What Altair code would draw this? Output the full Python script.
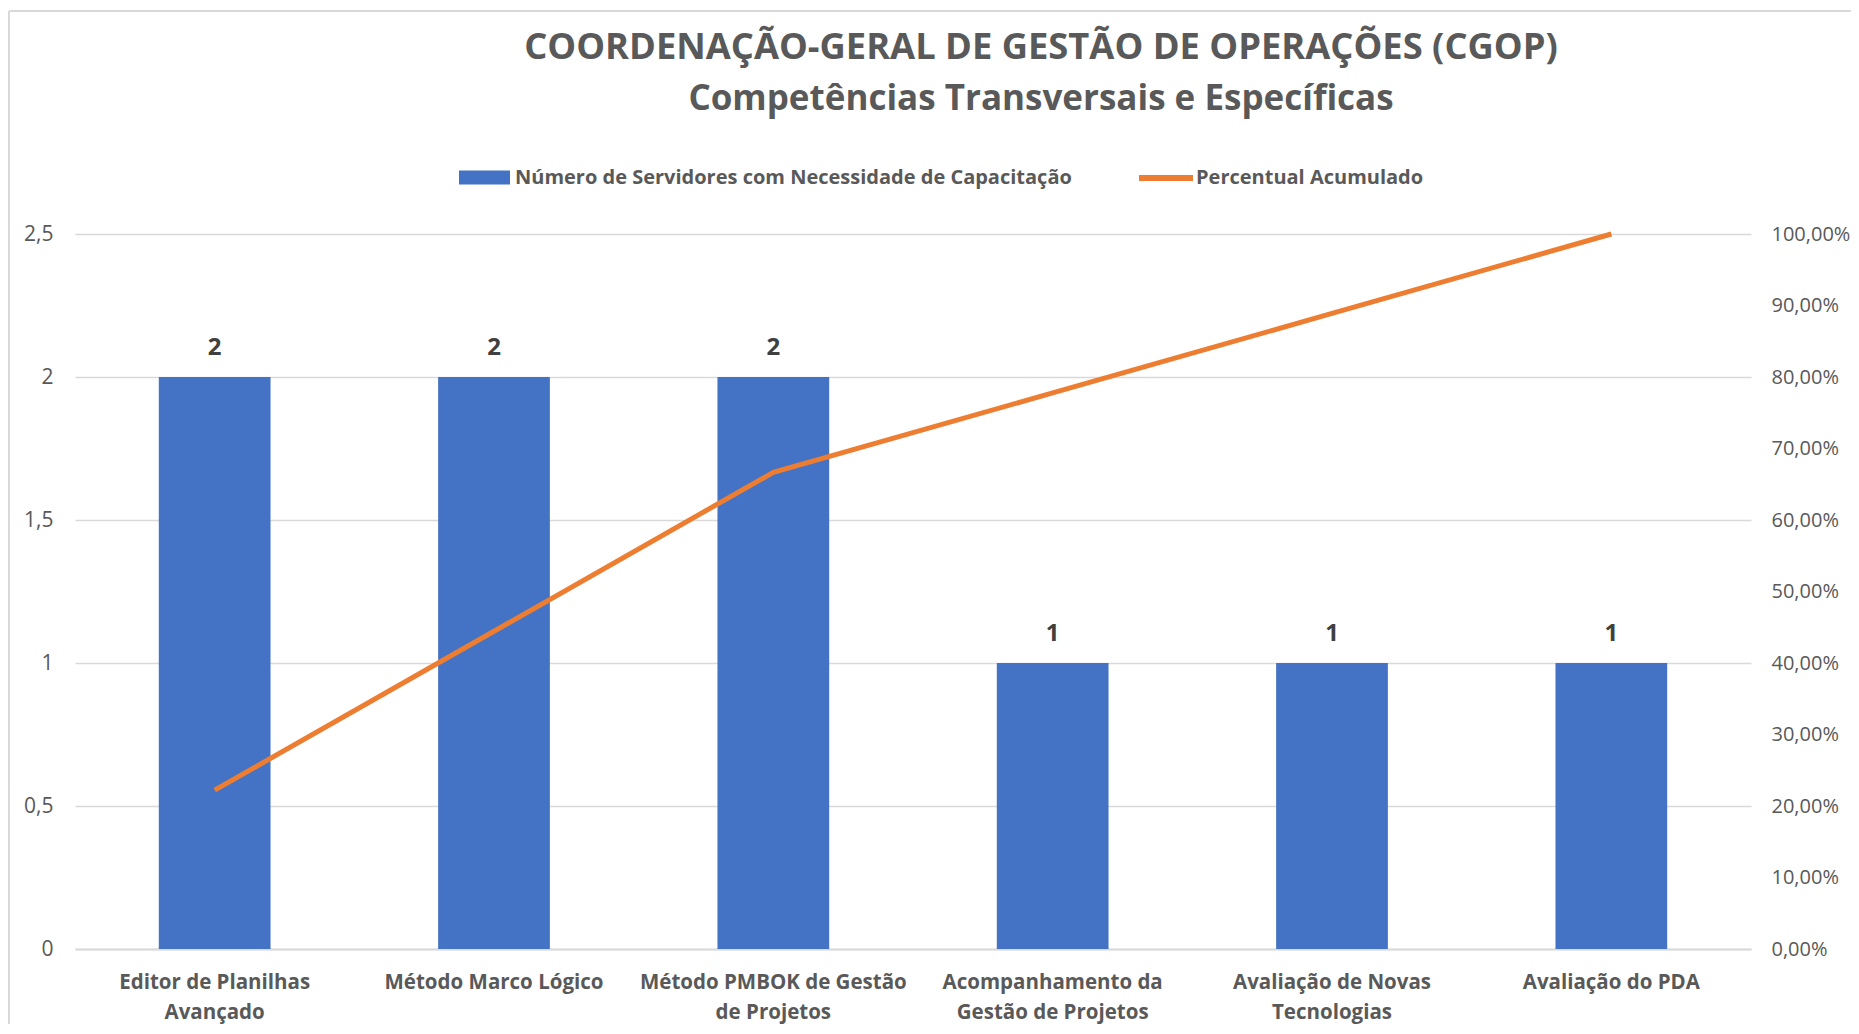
import altair as alt
import pandas as pd

categories = [
    "Editor de Planilhas\nAvançado",
    "Método Marco Lógico",
    "Método PMBOK de Gestão\nde Projetos",
    "Acompanhamento da\nGestão de Projetos",
    "Avaliação de Novas\nTecnologias",
    "Avaliação do PDA",
]
servidores = [2, 2, 2, 1, 1, 1]
percentual = [0.2222, 0.4444, 0.6667, 0.7778, 0.8889, 1.0]

bar_name = "Número de Servidores com Necessidade de Capacitação"
line_name = "Percentual Acumulado"

df = pd.DataFrame({
    "cat": categories,
    "n": servidores,
    "pct": percentual,
    "s1": [bar_name] * len(categories),
    "s2": [line_name] * len(categories),
})

FONT = "Open Sans"
GRAY = "#595959"
BORDER = "#D9D9D9"

x = alt.X(
    "cat:N",
    sort=categories,
    title=None,
    scale=alt.Scale(paddingInner=0.6, paddingOuter=0.3),
    axis=alt.Axis(
        labelExpr="split(datum.label, '\\n')",
        labelAngle=0,
        labelFont=FONT,
        labelFontSize=20.5,
        labelFontWeight="bold",
        labelColor=GRAY,
        labelLineHeight=30,
        labelPadding=23,
        labelBaseline="top",
        ticks=False,
        domain=True,
        domainColor="#D9D9D9",
        domainWidth=2,
        grid=False,
        labelLimit=400,
    ),
)

y_left = alt.Y(
    "n:Q",
    title=None,
    scale=alt.Scale(domain=[0, 2.5], nice=False),
    axis=alt.Axis(
        values=[0, 0.5, 1, 1.5, 2, 2.5],
        labelExpr="replace(format(datum.value, '~g'), '.', ',')",
        labelFont=FONT,
        labelFontSize=21,
        labelColor=GRAY,
        labelPadding=22,
        ticks=False,
        domain=False,
        grid=True,
        gridColor="#D9D9D9",
        gridWidth=1.3,
    ),
)

bars = alt.Chart(df).mark_bar(color="#4472C4").encode(
    x=x,
    y=y_left,
    fill=alt.Fill(
        "s1:N",
        scale=alt.Scale(domain=[bar_name], range=["#4472C4"]),
        legend=alt.Legend(
            title=None,
            orient="none",
            legendX=384,
            legendY=-82,
            symbolType="M-1,-0.275H1V0.275H-1Z",
            symbolSize=2601,
            symbolStrokeWidth=0,
            labelFont=FONT,
            labelFontSize=20,
            labelFontWeight="bold",
            labelColor=GRAY,
            labelOffset=5,
            labelLimit=800,
            padding=0,
        ),
    ),
)

labels = alt.Chart(df).mark_text(
    dy=-29, font=FONT, fontSize=24, fontWeight="bold", color="#404040"
).encode(x=x, y=y_left, text="n:Q")

line = alt.Chart(df).mark_line(strokeWidth=5).encode(
    x=x,
    y=alt.Y(
        "pct:Q",
        title=None,
        scale=alt.Scale(domain=[0, 1], nice=False),
        axis=alt.Axis(
            orient="right",
            values=[0, 0.1, 0.2, 0.3, 0.4, 0.5, 0.6, 0.7, 0.8, 0.9, 1.0],
            labelExpr="replace(format(datum.value, '.2%'), '.', ',')",
            labelFont=FONT,
            labelFontSize=20,
            labelColor=GRAY,
            labelPadding=20,
            ticks=False,
            domain=False,
            grid=False,
        ),
    ),
    stroke=alt.Stroke(
        "s2:N",
        scale=alt.Scale(domain=[line_name], range=["#ED7D31"]),
        legend=alt.Legend(
            title=None,
            orient="none",
            legendX=1061,
            legendY=-86,
            symbolType="stroke",
            symbolSize=2916,
            symbolStrokeWidth=6,
            labelFont=FONT,
            labelFontSize=20,
            labelFontWeight="bold",
            labelColor=GRAY,
            labelOffset=0,
            labelLimit=800,
            padding=0,
        ),
    ),
)

# chart frame (light gray border at top and left of the chart area)
frame_top = alt.Chart(df.head(1)).mark_rule(color=BORDER, strokeWidth=2).encode(
    x=alt.value(-66), x2=alt.value(1790), y=alt.value(-223)
)
frame_left = alt.Chart(df.head(1)).mark_rule(color=BORDER, strokeWidth=2).encode(
    x=alt.value(-66), y=alt.value(-223), y2=alt.value(820)
)

left = alt.layer(bars, labels)
chart = alt.layer(frame_top, frame_left, left, line).resolve_scale(
    y="independent", fill="independent", stroke="independent"
).properties(
    width=1676,
    height=715,
    autosize=alt.AutoSizeParams(type="none"),
    padding={"left": 67, "top": 226, "right": 100, "bottom": 75},
    title=alt.TitleParams(
        text="COORDENAÇÃO-GERAL DE GESTÃO DE OPERAÇÕES (CGOP)",
        subtitle="Competências Transversais e Específicas",
        font=FONT,
        fontSize=36.3,
        fontWeight="bold",
        color=GRAY,
        subtitleFont=FONT,
        subtitleFontSize=35,
        subtitleFontWeight="bold",
        subtitleColor=GRAY,
        subtitlePadding=16,
        anchor="middle",
        dx=128,
        offset=-107,
    ),
).configure(background="white").configure_view(stroke=None)

chart.save("out.html", embed_options={"renderer": "svg", "actions": False})
